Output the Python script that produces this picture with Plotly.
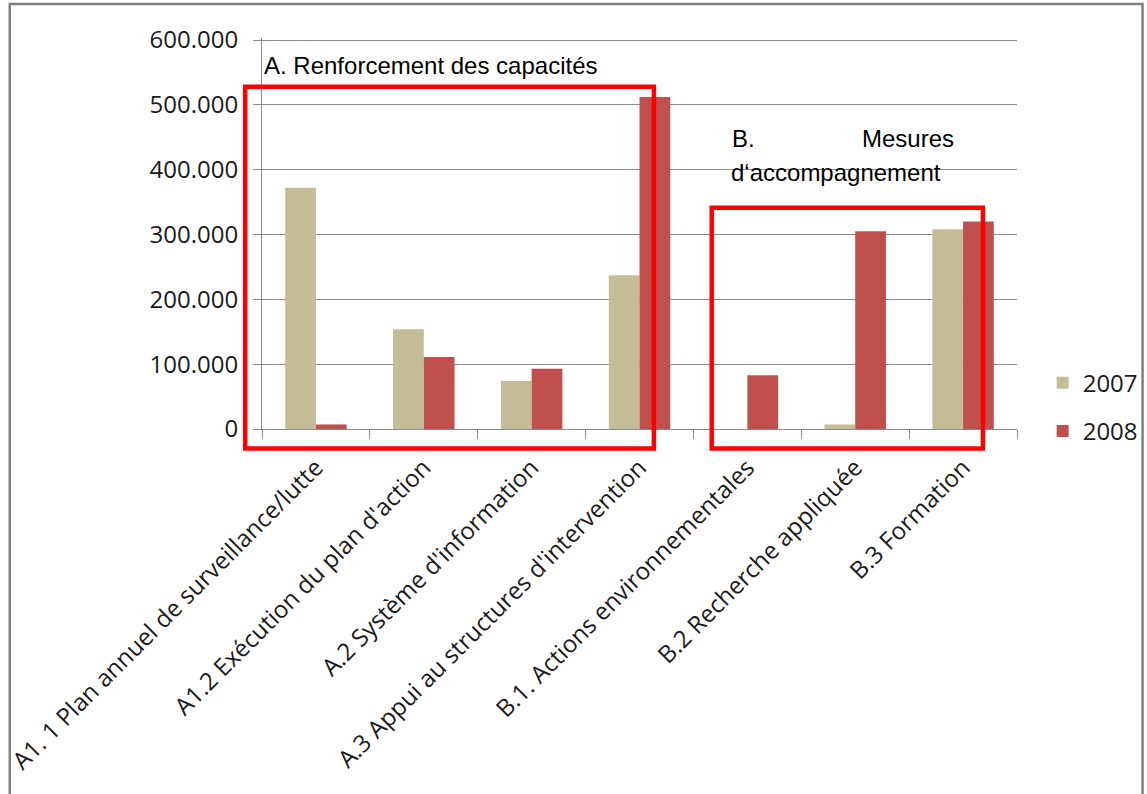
import plotly.graph_objects as go

# ---- data ----
categories = [
    "A1. 1 Plan annuel de surveillance/lutte",
    "A1.2 Exécution du plan d'action",
    "A.2 Système d'information",
    "A.3 Appui au structures d'intervention",
    "B.1. Actions environnementales",
    "B.2 Recherche appliquée",
    "B.3 Formation",
]
values_2007 = [372000, 154000, 74000, 237000, 0, 7000, 308000]
values_2008 = [7000, 111000, 93000, 512000, 83000, 305000, 320000]
series_names = ["2007", "2008"]
y_tick_values = [0, 100000, 200000, 300000, 400000, 500000, 600000]
y_max = 600000

# ---- layout geometry (pixels) ----
W, H = 1147, 794
PL, PR = 261.5, 1017.3   # plot left / right
Y600, PB = 40.0, 429.3   # pixel of 600.000 gridline / zero line
K = (PB - Y600) / y_max  # px per unit
TOP_PAD = 2.0            # keep the 600.000 gridline just inside the plot
PT = Y600 - TOP_PAD
Y_RANGE_TOP = y_max + TOP_PAD / K


def px_x(x):
    return (x - PL) / (PR - PL)


def px_y(y):
    return (PB - y) / (PB - PT)


COL_2007 = "#C4BD97"
COL_2008 = "#C0504D"
GRID = "#8c8c8c"
TXT = "#1a1a1a"
CAL = "Open Sans, Lato, sans-serif"
ARI = "Liberation Sans, Arial, sans-serif"
FS = 24

fig = go.Figure()
fig.add_trace(go.Bar(x=categories, y=values_2007, name=series_names[0],
                     marker=dict(color=COL_2007, line=dict(width=0)),
                     legendgroup="g1"))
fig.add_trace(go.Bar(x=categories, y=values_2008, name=series_names[1],
                     marker=dict(color=COL_2008, line=dict(width=0)),
                     legendgroup="g2"))

shapes = [
    # outer chart border
    dict(type="rect", xref="paper", yref="paper",
         x0=px_x(9), x1=px_x(1143), y0=px_y(800), y1=px_y(4),
         line=dict(color="#7f7f7f", width=2.5), layer="below"),
    # red box A
    dict(type="rect", xref="paper", yref="paper",
         x0=px_x(244.7), x1=px_x(653.8), y0=px_y(448.8), y1=px_y(86.8),
         line=dict(color="#FF0000", width=4.5), layer="above"),
    # red box B
    dict(type="rect", xref="paper", yref="paper",
         x0=px_x(711.7), x1=px_x(983.2), y0=px_y(448.8), y1=px_y(208),
         line=dict(color="#FF0000", width=4.5), layer="above"),
]

ann_font = dict(family=ARI, size=24, color="#000000")
annotations = [
    dict(text="A. Renforcement des capacités", xref="paper", yref="paper",
         x=px_x(262), y=px_y(66), xanchor="left", yanchor="middle",
         showarrow=False, font=ann_font),
    dict(text="B.", xref="paper", yref="paper",
         x=px_x(730), y=px_y(139), xanchor="left", yanchor="middle",
         showarrow=False, font=ann_font),
    dict(text="Mesures", xref="paper", yref="paper",
         x=px_x(956), y=px_y(139), xanchor="right", yanchor="middle",
         showarrow=False, font=ann_font),
    dict(text="d\u2018accompagnement", xref="paper", yref="paper",
         x=px_x(729), y=px_y(173), xanchor="left", yanchor="middle",
         showarrow=False, font=ann_font),
]

fig.update_layout(
    width=W, height=H,
    margin=dict(l=PL, r=W - PR, t=PT, b=H - PB, pad=0, autoexpand=False),
    paper_bgcolor="white", plot_bgcolor="white",
    barmode="group", bargap=0.43, bargroupgap=0,
    separators=",.",
    font=dict(family=CAL, size=FS, color=TXT),
    showlegend=True,
    legend=dict(x=px_x(1043), y=px_y(361), xanchor="left", yanchor="top",
                font=dict(family=CAL, size=FS, color=TXT),
                bgcolor="rgba(0,0,0,0)", borderwidth=0,
                tracegroupgap=14, traceorder="grouped"),
    shapes=shapes,
    annotations=annotations,
)

fig.update_xaxes(
    type="category", automargin=False,
    showline=True, linecolor=GRID, linewidth=1,
    ticks="outside", tickson="boundaries", ticklen=9, tickcolor=GRID,
    tickangle=-45, tickfont=dict(family=CAL, size=FS, color=TXT),
    ticklabelstandoff=14,
    showgrid=False, zeroline=False,
)
fig.update_yaxes(
    range=[0, Y_RANGE_TOP], automargin=False,
    tickvals=y_tick_values, tickformat=",d",
    showline=True, linecolor=GRID, linewidth=1,
    ticks="outside", ticklen=8, tickcolor=GRID,
    ticklabelstandoff=10,
    showgrid=True, gridcolor=GRID, gridwidth=1,
    zeroline=False,
    tickfont=dict(family=CAL, size=FS, color=TXT),
)

fig.write_html("out.html")
